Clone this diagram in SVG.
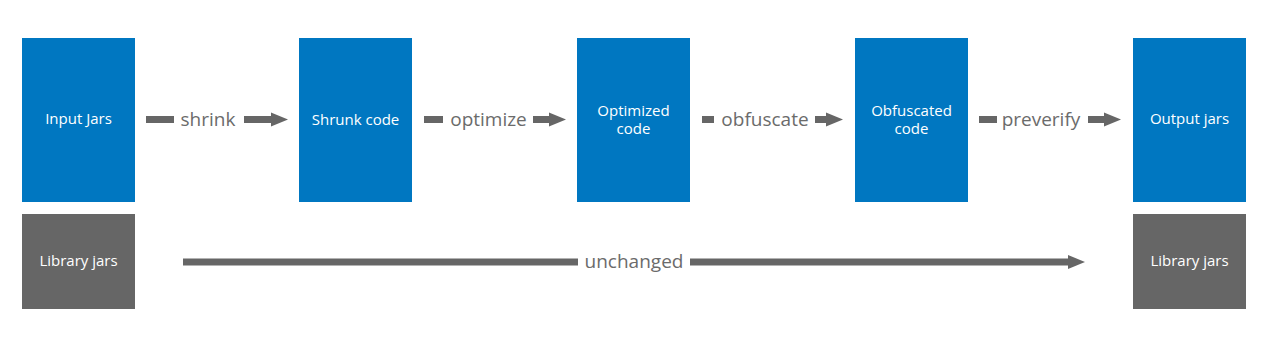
<svg xmlns="http://www.w3.org/2000/svg" width="1278" height="342" viewBox="0 0 1278 342">
<style>
.blue{fill:#0077C1}
.gray{fill:#666666}
.nt{font-family:"Open Sans","Liberation Sans",sans-serif;font-size:15px;fill:#ffffff;text-anchor:middle}
.lbl{font-family:"Open Sans","Liberation Sans",sans-serif;font-size:19px;fill:#6b6b6b;text-anchor:middle}
.c{stroke:#666666;stroke-width:7;fill:none}
</style>
<defs>
<marker id="ah" markerUnits="userSpaceOnUse" markerWidth="18" markerHeight="15" refX="1" refY="7.5" orient="auto">
<path d="M0,0.5 L17,7.5 L0,14.5 z" fill="#666666"/>
</marker>
</defs>
<rect width="1278" height="342" fill="#ffffff"/>
<g id="input-jars"><rect class="blue" x="22" y="38" width="113" height="164"/><text class="nt" x="78.5" y="123.5">Input Jars</text></g>
<g id="shrunk-code"><rect class="blue" x="299" y="38" width="113" height="164"/><text class="nt" x="355.5" y="125">Shrunk code</text></g>
<g id="optimized-code"><rect class="blue" x="577" y="38" width="113" height="164"/><text class="nt" x="633.5" y="116">Optimized</text><text class="nt" x="633.5" y="134">code</text></g>
<g id="obfuscated-code"><rect class="blue" x="855" y="38" width="113" height="164"/><text class="nt" x="911.5" y="116">Obfuscated</text><text class="nt" x="911.5" y="134">code</text></g>
<g id="output-jars"><rect class="blue" x="1133" y="38" width="113" height="164"/><text class="nt" x="1189.5" y="123.5">Output jars</text></g>
<g id="library-jars-in"><rect class="gray" x="22" y="214" width="113" height="95"/><text class="nt" x="78.5" y="266">Library jars</text></g>
<g id="library-jars-out"><rect class="gray" x="1133" y="214" width="113" height="95"/><text class="nt" x="1189.5" y="266">Library jars</text></g>
<g id="connectors">
<line class="c" x1="146" y1="119.5" x2="174" y2="119.5"/>
<text class="lbl" x="208" y="126">shrink</text>
<line class="c" x1="244" y1="119.5" x2="272" y2="119.5" marker-end="url(#ah)"/>
<line class="c" x1="424" y1="119.5" x2="443" y2="119.5"/>
<text class="lbl" x="488.5" y="126">optimize</text>
<line class="c" x1="533" y1="119.5" x2="550" y2="119.5" marker-end="url(#ah)"/>
<line class="c" x1="702" y1="119.5" x2="714" y2="119.5"/>
<text class="lbl" x="765" y="126">obfuscate</text>
<line class="c" x1="815" y1="119.5" x2="827" y2="119.5" marker-end="url(#ah)"/>
<line class="c" x1="979" y1="119.5" x2="997" y2="119.5"/>
<text class="lbl" x="1041" y="126">preverify</text>
<line class="c" x1="1088" y1="119.5" x2="1105" y2="119.5" marker-end="url(#ah)"/>
<line class="c" x1="183" y1="262" x2="578" y2="262"/>
<text class="lbl" x="634" y="268">unchanged</text>
<line class="c" x1="690" y1="262" x2="1069" y2="262" marker-end="url(#ah)"/>
</g>
</svg>
